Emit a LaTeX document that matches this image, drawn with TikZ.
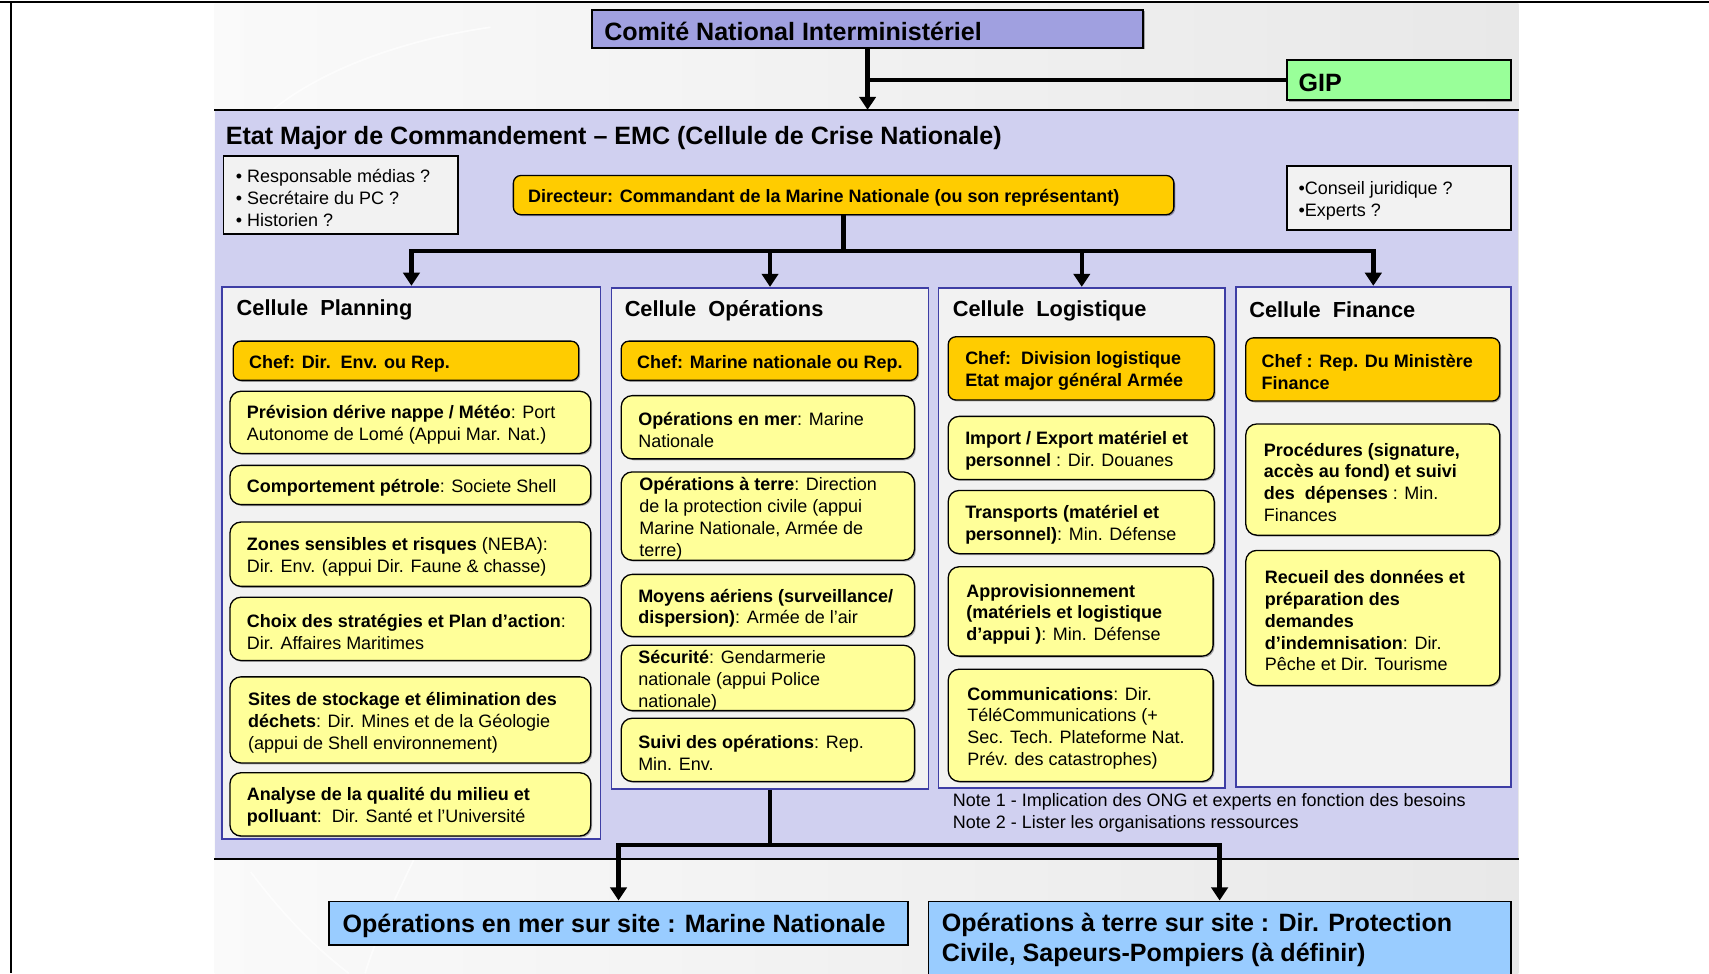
\documentclass[tikz,border=0pt]{standalone}
\usepackage{fontspec}
\setmainfont{Liberation Sans}
\usetikzlibrary{arrows.meta,shadows}
\definecolor{emcbg}{RGB}{208,208,240}
\definecolor{cellbg}{RGB}{242,242,242}
\definecolor{cellbd}{RGB}{62,62,165}
\definecolor{chefor}{RGB}{255,204,0}
\definecolor{itemyl}{RGB}{255,255,153}
\definecolor{cnibg}{RGB}{160,160,224}
\definecolor{gipbg}{RGB}{153,255,153}
\definecolor{opbg}{RGB}{153,204,255}
\definecolor{notebg}{RGB}{242,242,242}
\newcommand{\mkbox}[8]{% style, name, x1, y1, x2, y2, text xshift, text
  \pgfmathsetmacro\bxcx{(#3+#5)/2}\pgfmathsetmacro\bxcy{(#4+#6)/2}%
  \pgfmathsetmacro\bxw{#5-#3}\pgfmathsetmacro\bxh{#6-#4}%
  \node[#1, minimum width=\bxw pt, minimum height=\bxh pt] (#2) at (\bxcx,\bxcy) {};
  \node[txt, anchor=west] at ([xshift=#7pt, yshift=-2.5pt]#2.west) {#8};}
\begin{document}
\begin{tikzpicture}[x=1pt,y=-1pt,
  txt/.style={font=\fontsize{16.5}{20}\selectfont, align=left, inner sep=0pt},
  bigtxt/.style={font=\fontsize{23}{28}\selectfont\bfseries, align=left, inner sep=0pt},
  celltitle/.style={font=\fontsize{20}{24}\selectfont\bfseries, inner sep=0pt, anchor=west},
  shd/.style={drop shadow={shadow xshift=1.3pt,shadow yshift=-1.3pt,opacity=0.3,fill=black}},
  chefbox/.style={draw=black, line width=1.2pt, fill=chefor, rounded corners=7pt, inner sep=0pt, shd},
  itembox/.style={draw=black, line width=1.2pt, fill=itemyl, rounded corners=10pt, inner sep=0pt, shd},
  cellbox/.style={draw=cellbd, line width=1.6pt, fill=cellbg, inner sep=0pt},
  notebox/.style={draw=black, line width=1.6pt, fill=notebg, inner sep=0pt},
  headbox/.style={draw=black, line width=1.6pt, inner sep=0pt, shd},
  conn/.style={line width=4pt, black},
  arr/.style={line width=4pt, black, -{Triangle[width=15pt,length=12pt]}}]
\useasboundingbox (0,0) rectangle (1568,893);
\clip (0,0) rectangle (1568,893);
\fill[white] (0,0) rectangle (1568,893);
% slide background
\shade[left color=gray!4, right color=gray!18] (197,3) rectangle (1393,893);
\draw[white, line width=1.5pt, opacity=0.7] (250,101) .. controls (300,60) and (380,35) .. (450,25);
\draw[white, line width=1.5pt, opacity=0.7] (230,800) .. controls (260,840) and (290,870) .. (320,893);
\draw[white, line width=1.5pt, opacity=0.7] (380,788) .. controls (360,830) and (345,860) .. (335,893);
% EMC panel
\node[fill=emcbg, minimum width=1196pt, minimum height=687pt, inner sep=0pt] (emc) at (795,444.5) {};
\draw[line width=2pt] (emc.north west) -- (emc.north east);
\draw[line width=2pt] (emc.south west) -- (emc.south east);
% outer frame
\draw[line width=2pt] (0,2) -- (1568,2);
\draw[line width=2pt] (10,2) -- (10,893);
% Comite and GIP
\mkbox{headbox, fill=cnibg}{cni}{543}{9}{1049}{44}{12}{\fontsize{23}{28}\selectfont\bfseries Comité National Interministériel}
\mkbox{headbox, fill=gipbg}{gip}{1181}{55}{1386}{92}{11}{\fontsize{23}{28}\selectfont\bfseries GIP}
\draw[arr] (cni.south) -- (cni.south |- emc.north);
\draw[conn] (cni.south |- gip.west) -- (gip.west);
% EMC title
\node[bigtxt, anchor=west] (emct) at (207,126.5) {Etat Major de Commandement – EMC (Cellule de Crise Nationale)};
% side boxes
\mkbox{notebox}{side1}{205}{143}{420}{215}{12}{• Responsable médias ?\\• Secrétaire du PC ?\\• Historien ?}
\mkbox{notebox}{side2}{1181}{152}{1386}{211}{11}{•Conseil juridique ?\\•Experts ?}
% director
\mkbox{chefbox}{dir}{471}{161}{1077}{197}{14}{\textbf{Directeur: Commandant de la Marine Nationale (ou son représentant)}}
% cells
\node[cellbox, minimum width=347pt, minimum height=507pt] (plan) at (377.5,516.5) {};
\node[cellbox, minimum width=291pt, minimum height=460pt] (ops) at (706.5,494) {};
\node[cellbox, minimum width=263pt, minimum height=459pt] (logi) at (992.5,493.5) {};
\node[cellbox, minimum width=252pt, minimum height=459pt] (fin) at (1260,492.5) {};
\node[celltitle] at (217,284.5) {Cellule\ \ Planning};
\node[celltitle] at (573,285) {Cellule\ \ Opérations};
\node[celltitle] at (874,285) {Cellule\ \ Logistique};
\node[celltitle] at (1146,284.5) {Cellule\ \ Finance};
% director bus
\coordinate (busT) at (775,230);
\draw[conn] (dir.south) -- (dir.south |- busT);
\draw[conn] ([xshift=-2pt]plan.north |- busT) -- ([xshift=2pt]fin.north |- busT);
\draw[arr] (plan.north |- busT) -- (plan.north);
\draw[arr] (ops.north |- busT) -- (ops.north);
\draw[arr] (logi.north |- busT) -- (logi.north);
\draw[arr] (fin.north |- busT) -- (fin.north);
% Planning items
\mkbox{chefbox}{p0}{214}{313}{531}{349}{15}{\textbf{Chef: Dir.\ \ Env. ou Rep.}}
\mkbox{itembox}{p1}{211}{359}{542}{416}{16}{\textbf{Prévision dérive nappe / Météo}: Port\\Autonome de Lomé (Appui Mar. Nat.)}
\mkbox{itembox}{p2}{211}{427}{542}{463}{16}{\textbf{Comportement pétrole}: Societe Shell}
\mkbox{itembox}{p3}{211}{479}{542}{538}{16}{\textbf{Zones sensibles et risques} (NEBA):\\Dir. Env. (appui Dir. Faune \& chasse)}
\mkbox{itembox}{p4}{211}{548}{542}{606}{16}{\textbf{Choix des stratégies et Plan d’action}:\\Dir. Affaires Maritimes}
\mkbox{itembox}{p5}{211}{621}{542}{700}{17}{\textbf{Sites de stockage et élimination des}\\\textbf{déchets}: Dir. Mines et de la Géologie\\(appui de Shell environnement)}
\mkbox{itembox}{p6}{211}{709}{542}{767}{16}{\textbf{Analyse de la qualité du milieu et}\\\textbf{polluant}:\ \ Dir. Santé et l’Université}
% Operations items
\mkbox{chefbox}{o0}{570}{313}{842}{349}{15}{\textbf{Chef: Marine nationale ou Rep.}}
\mkbox{itembox}{o1}{570}{363}{839}{421}{16}{\textbf{Opérations en mer}: Marine\\Nationale}
\mkbox{itembox}{o2}{570}{433}{839}{514}{17}{\textbf{Opérations à terre}: Direction\\de la protection civile (appui\\Marine Nationale, Armée de\\terre)}
\mkbox{itembox}{o3}{570}{527}{839}{584}{16}{\textbf{Moyens aériens (surveillance/}\\\textbf{dispersion)}: Armée de l’air}
\mkbox{itembox}{o4}{570}{592}{839}{652}{16}{\textbf{Sécurité}: Gendarmerie\\nationale (appui Police\\nationale)}
\mkbox{itembox}{o5}{570}{659}{839}{717}{16}{\textbf{Suivi des opérations}: Rep.\\Min. Env.}
% Logistique items
\mkbox{chefbox}{l0}{870}{309}{1114}{367}{16}{\textbf{Chef:\ \ Division logistique}\\\textbf{Etat major général Armée}}
\mkbox{itembox}{l1}{870}{382}{1114}{440}{16}{\textbf{Import / Export matériel et}\\\textbf{personnel} : Dir. Douanes}
\mkbox{itembox}{l2}{870}{450}{1114}{508}{16}{\textbf{Transports (matériel et}\\\textbf{personnel)}: Min. Défense}
\mkbox{itembox}{l3}{870}{520}{1113}{602}{17}{\textbf{Approvisionnement}\\\textbf{(matériels et logistique}\\\textbf{d’appui )}: Min. Défense}
\mkbox{itembox}{l4}{870}{614}{1113}{717}{18}{\textbf{Communications}: Dir.\\TéléCommunications (+\\Sec. Tech. Plateforme Nat.\\Prév. des catastrophes)}
% Finance items
\mkbox{chefbox}{f0}{1143}{310}{1376}{368}{15}{\textbf{Chef : Rep. Du Ministère}\\\textbf{Finance}}
\mkbox{itembox}{f1}{1143}{389}{1376}{491}{17}{\textbf{Procédures (signature,}\\\textbf{accès au fond) et suivi}\\\textbf{des\ \ dépenses} : Min.\\Finances}
\mkbox{itembox}{f2}{1143}{505}{1376}{629}{18}{\textbf{Recueil des données et}\\\textbf{préparation des}\\\textbf{demandes}\\\textbf{d’indemnisation}: Dir.\\Pêche et Dir. Tourisme}
% notes
\node[txt, anchor=north west] (notes) at (874,728) {Note 1 - Implication des ONG et experts en fonction des besoins\\Note 2 - Lister les organisations ressources};
% bottom boxes
\mkbox{headbox, fill=opbg}{b1}{302}{827}{833}{867}{13}{\fontsize{23}{28}\selectfont\bfseries Opérations en mer sur site : Marine Nationale}
\node[headbox, fill=opbg, minimum width=534pt, minimum height=72pt] (b2) at (1119,863) {};
\node[bigtxt, anchor=north west] at (864,837.5) {Opérations à terre sur site : Dir. Protection\\Civile, Sapeurs-Pompiers (à définir)};
% bottom bus
\coordinate (busB) at (707,775);
\draw[conn] (ops.south) -- (ops.south |- busB);
\draw[conn] ([xshift=-2pt]b1.north |- busB) -- ([xshift=2pt]b2.north |- busB);
\draw[arr] (b1.north |- busB) -- (b1.north);
\draw[arr] (b2.north |- busB) -- (b2.north);
\end{tikzpicture}
\end{document}
